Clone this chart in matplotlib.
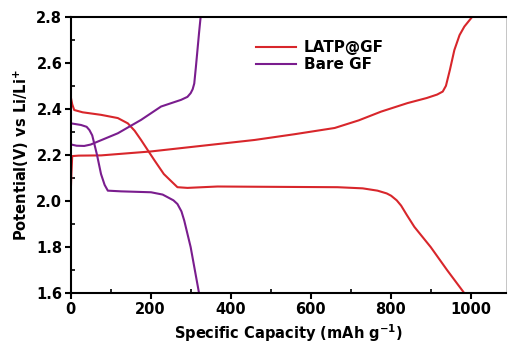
import matplotlib
matplotlib.use("Agg")
import matplotlib.pyplot as plt
from matplotlib.ticker import MultipleLocator, FormatStrFormatter

# LATP@GF charge curve
latp_charge_x = [0, 2, 4, 20, 76, 200, 330, 460, 560, 660, 720, 776, 842, 890, 916, 930, 938, 948, 959, 972, 984, 1004]
latp_charge_y = [2.02, 2.12, 2.195, 2.197, 2.198, 2.215, 2.24, 2.265, 2.29, 2.317, 2.35, 2.388, 2.425, 2.447, 2.462, 2.475, 2.50, 2.57, 2.655, 2.72, 2.757, 2.80]

# LATP@GF discharge curve
latp_dis_x = [0, 4, 9, 30, 76, 118, 143, 160, 176, 209, 233, 255, 267, 292, 367, 460, 667, 730, 767, 790, 801, 815, 826, 840, 859, 900, 941, 984]
latp_dis_y = [2.455, 2.42, 2.395, 2.385, 2.374, 2.36, 2.337, 2.305, 2.265, 2.178, 2.117, 2.08, 2.06, 2.057, 2.063, 2.062, 2.06, 2.055, 2.045, 2.033, 2.023, 2.003, 1.98, 1.94, 1.888, 1.80, 1.70, 1.60]

# Bare GF charge curve
bare_charge_x = [2, 15, 34, 50, 68, 118, 176, 226, 276, 292, 300, 305, 309, 313, 317, 321, 325]
bare_charge_y = [2.245, 2.24, 2.239, 2.245, 2.258, 2.294, 2.352, 2.41, 2.439, 2.452, 2.468, 2.485, 2.51, 2.58, 2.655, 2.73, 2.80]

# Bare GF discharge curve
bare_dis_x = [1, 26, 40, 47, 54, 59, 66, 72, 76, 85, 93, 126, 201, 230, 242, 257, 267, 277, 284, 300, 321]
bare_dis_y = [2.337, 2.33, 2.322, 2.308, 2.285, 2.25, 2.20, 2.15, 2.117, 2.07, 2.045, 2.042, 2.038, 2.028, 2.017, 2.003, 1.987, 1.955, 1.915, 1.80, 1.60]

red = "#d8262b"
purple = "#7a1d8e"

plt.rcParams['font.family'] = ['DejaVu Sans']
plt.rcParams['font.weight'] = 'bold'
plt.rcParams['mathtext.default'] = 'bf'

fig = plt.figure(figsize=(5.08, 3.47), dpi=100)
ax = fig.add_axes([0.139, 0.155, 0.857, 0.797])

ax.plot(latp_charge_x, latp_charge_y, color=red, lw=1.5, label="LATP@GF", solid_joinstyle='round')
ax.plot(latp_dis_x, latp_dis_y, color=red, lw=1.5, solid_joinstyle='round')
ax.plot(bare_charge_x, bare_charge_y, color=purple, lw=1.5, label="Bare GF", solid_joinstyle='round')
ax.plot(bare_dis_x, bare_dis_y, color=purple, lw=1.5, solid_joinstyle='round')

ax.set_xlim(0, 1088)
ax.set_ylim(1.6, 2.8)
ax.xaxis.set_major_locator(MultipleLocator(200))
ax.xaxis.set_minor_locator(MultipleLocator(100))
ax.yaxis.set_major_locator(MultipleLocator(0.2))
ax.yaxis.set_minor_locator(MultipleLocator(0.1))
ax.yaxis.set_major_formatter(FormatStrFormatter('%.1f'))
ax.tick_params(axis='both', which='major', direction='out', length=4, width=1.5, labelsize=10.5, pad=2)
ax.tick_params(axis='both', which='minor', direction='in', length=3, width=1.2)
for lab in ax.get_xticklabels() + ax.get_yticklabels():
    lab.set_fontweight('bold')
for s in ax.spines.values():
    s.set_linewidth(1.5)
ax.spines['right'].set_linewidth(0.6)
ax.spines['right'].set_color('#bbbbbb')

ax.set_xlabel("Specific Capacity (mAh g$^{-1}$)", fontsize=10.5, fontweight='bold', labelpad=4)
ax.set_ylabel("Potential(V) vs Li/Li$^{+}$", fontsize=10.5, fontweight='bold', labelpad=4)

leg = ax.legend(loc='upper left', bbox_to_anchor=(0.395, 0.965), frameon=False,
                fontsize=11, handlelength=2.6, handletextpad=0.5, labelspacing=0.15)
for t in leg.get_texts():
    t.set_fontweight('bold')

fig.savefig("out.png", dpi=100)
